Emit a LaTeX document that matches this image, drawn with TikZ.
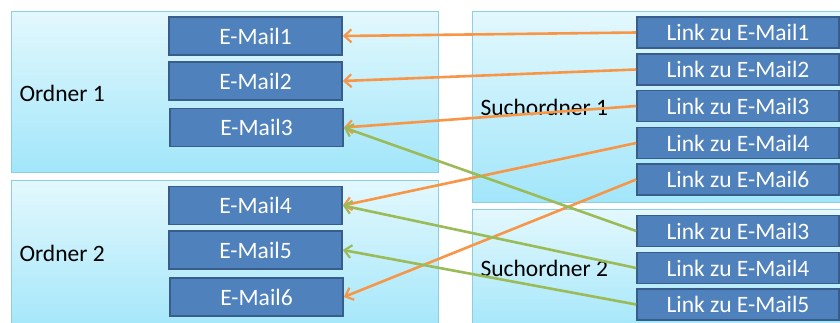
\documentclass[tikz,border=0pt]{standalone}
\usepackage{fontspec}
\setmainfont{Carlito}
\usetikzlibrary{arrows.meta}

\definecolor{boxfill}{HTML}{4F81BD}
\definecolor{boxline}{HTML}{385D8A}
\definecolor{paneltop}{HTML}{E3F8FD}
\definecolor{panelbottom}{HTML}{A2E6FA}
\definecolor{panelline}{HTML}{8CCFE2}
\definecolor{linkorange}{HTML}{F79646}
\definecolor{linkgreen}{HTML}{9BBB59}

\tikzset{
  panel/.style={draw=panelline, line width=0.8pt, top color=paneltop, bottom color=panelbottom},
  paneltext/.style={anchor=west, text=black, font=\fontsize{23.5}{28}\selectfont},
  mailbox/.style={draw=boxline, line width=1.6pt, fill=boxfill, text=white,
    minimum width=173pt, minimum height=38pt, inner sep=0pt,
    font=\fontsize{23.5}{28}\selectfont},
  linkbox/.style={draw=boxline, line width=1.6pt, fill=boxfill, text=white,
    minimum width=202pt, minimum height=31pt, inner sep=0pt,
    font=\fontsize{23.5}{28}\selectfont},
  ref/.style={line width=2.6pt, -{Straight Barb[length=7pt,width=13pt,line width=2.2pt]}},
  reforange/.style={ref, draw=linkorange},
  refgreen/.style={ref, draw=linkgreen}
}

\begin{document}
\begin{tikzpicture}[x=1pt, y=-1pt]
  \useasboundingbox (0,0) rectangle (840,322);
  \clip (0,0) rectangle (840,322);
  \fill[white] (0,0) rectangle (840,322);

  % folder panels
  \draw[panel] (11,11) rectangle (438,172);
  \draw[panel] (11,180) rectangle (438,334);
  \draw[panel] (472,11) rectangle (852,202);
  \draw[panel] (472,209) rectangle (852,334);

  \node[paneltext] (o1) at (16,93) {Ordner 1};
  \node[paneltext] (o2) at (16,253) {Ordner 2};
  \node[paneltext] (s1) at (477,107) {Suchordner 1};
  \node[paneltext] (s2) at (477,268) {Suchordner 2};

  % mails in the real folders
  \node[mailbox] (m1) at (255.5,36) {E-Mail1};
  \node[mailbox] (m2) at (255.5,81) {E-Mail2};
  \node[mailbox] (m3) at (256.5,127.5) {E-Mail3};
  \node[mailbox] (m4) at (255.5,205.5) {E-Mail4};
  \node[mailbox] (m5) at (255.5,250) {E-Mail5};
  \node[mailbox] (m6) at (256.5,297) {E-Mail6};

  % links in the search folders
  \node[linkbox] (a1) at (738,32.5) {Link zu E-Mail1};
  \node[linkbox] (a2) at (738,69.5) {Link zu E-Mail2};
  \node[linkbox] (a3) at (738,106) {Link zu E-Mail3};
  \node[linkbox] (a4) at (738,143) {Link zu E-Mail4};
  \node[linkbox] (a6) at (738,179.5) {Link zu E-Mail6};
  \node[linkbox] (b3) at (738,231) {Link zu E-Mail3};
  \node[linkbox] (b4) at (738,268) {Link zu E-Mail4};
  \node[linkbox] (b5) at (738,304.5) {Link zu E-Mail5};

  % references from links to mails
  \draw[reforange] (a1.west) -- (m1.east);
  \draw[reforange] (a2.west) -- (m2.east);
  \draw[reforange] (a3.west) -- (m3.east);
  \draw[reforange] (a4.west) -- (m4.east);
  \draw[reforange] (a6.west) -- (m6.east);
  \draw[refgreen] (b3.west) -- (m3.east);
  \draw[refgreen] (b4.west) -- (m4.east);
  \draw[refgreen] (b5.west) -- (m5.east);
\end{tikzpicture}
\end{document}
